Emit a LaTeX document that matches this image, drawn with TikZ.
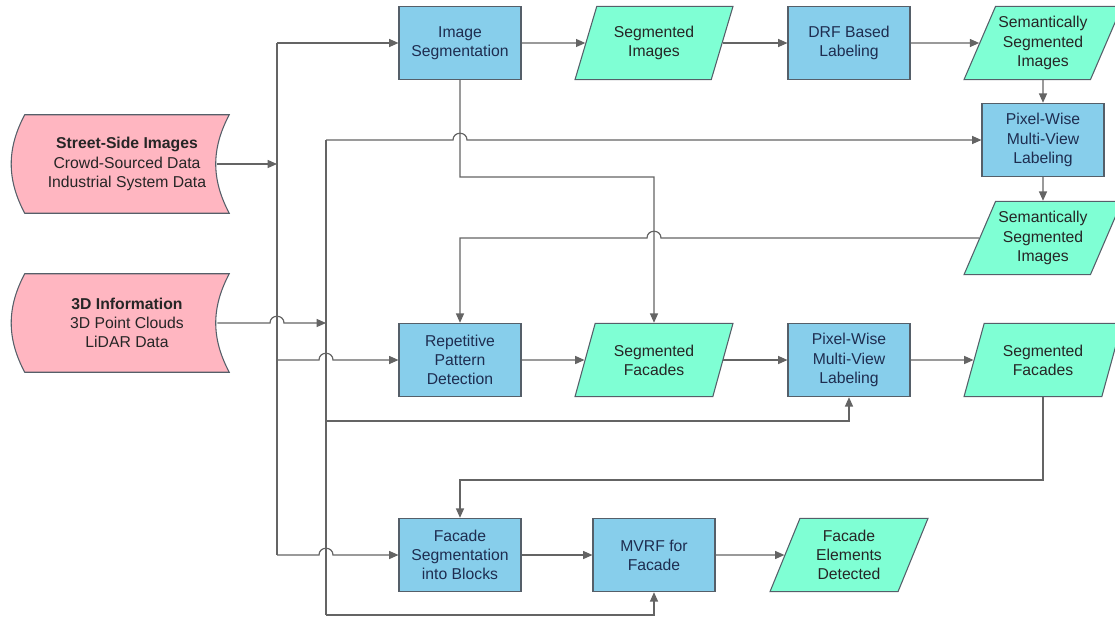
\documentclass[tikz,border=0pt]{standalone}
\usepackage{fontspec}
\setmainfont{Liberation Sans}
\usepackage{tikz}
\usetikzlibrary{shapes.geometric, arrows.meta, calc, backgrounds}

\definecolor{procblue}{RGB}{135,206,235}
\definecolor{datagreen}{RGB}{127,255,212}
\definecolor{srcpink}{RGB}{255,182,193}
\definecolor{edgegray}{RGB}{85,95,105}
\definecolor{linegray}{RGB}{100,100,100}
\definecolor{textnavy}{RGB}{30,45,80}

% line jumps over a crossing trunk
\newcommand{\hopR}[1]{-- ($(#1)+(-7,0)$) .. controls +(0,-9) and +(0,-9) .. ($(#1)+(7,0)$)}
\newcommand{\hopL}[1]{-- ($(#1)+(7,0)$) .. controls +(0,-9) and +(0,-9) .. ($(#1)+(-7,0)$)}

\begin{document}
\begin{tikzpicture}[x=0.75pt, y=-0.75pt,
    every node/.style={font=\fontsize{11.8}{14.4}\selectfont, align=center},
    process/.style={draw=edgegray, line width=0.8pt, fill=procblue, text=textnavy, minimum width=91.5pt, minimum height=55pt},
    data/.style={trapezium, trapezium left angle=63, trapezium right angle=117, trapezium stretches body, draw=edgegray, line width=0.8pt, fill=datagreen, text=black!85, minimum width=118.5pt, minimum height=55pt, inner xsep=0pt},
    source/.style={minimum width=153pt, minimum height=73.5pt, text=black!85},
    srcedge/.style={draw=edgegray, line width=0.8pt, fill=srcpink},
    line/.style={draw=linegray, line width=0.9pt},
    arr/.style={line, -{Triangle[length=7pt, width=6pt]}}]
    \useasboundingbox (0,0) rectangle (1115,618);

    % Inputs
    \node[source] (street) at (127,164) {\textbf{Street-Side Images}\\Crowd-Sourced Data\\Industrial System Data};
    \node[source] (info) at (127,323) {\textbf{3D Information}\\3D Point Clouds\\LiDAR Data};
    \begin{scope}[on background layer]
        \foreach \n in {street, info}
            \draw[srcedge] (\n.north west) to[bend right=28] (\n.south west) -- (\n.south east) to[bend left=28] (\n.north east) -- cycle;
    \end{scope}

    % Nodes
    \node[process] (imgseg) at (460,43) {Image\\Segmentation};
    \node[data] (segimg) at (654,43) {Segmented\\Images};
    \node[process] (drf) at (849,43) {DRF Based\\Labeling};
    \node[data] (sem1) at (1043,43) {Semantically\\Segmented\\Images};
    \node[process] (pwr) at (1043,140) {Pixel-Wise\\Multi-View\\Labeling};
    \node[data] (sem2) at (1043,238) {Semantically\\Segmented\\Images};
    \node[process] (rep) at (460,360) {Repetitive\\Pattern\\Detection};
    \node[data] (segfac) at (654,360) {Segmented\\Facades};
    \node[process] (pwm) at (849,360) {Pixel-Wise\\Multi-View\\Labeling};
    \node[data] (segfacr) at (1043,360) {Segmented\\Facades};
    \node[process] (fseg) at (460,555) {Facade\\Segmentation\\into Blocks};
    \node[process] (mvrf) at (654,555) {MVRF for\\Facade};
    \node[data] (felem) at (849,555) {Facade\\Elements\\Detected};

    % Trunks
    \coordinate (atop) at (277,43);
    \coordinate (abot) at (277,555);
    \coordinate (btop) at (326,140);
    \coordinate (bmid) at (326,421);
    \coordinate (bbot) at (326,615);
    \coordinate (k1) at (654,177);
    \coordinate (k2) at (460,480);
    \draw[line] (atop) -- (abot);
    \draw[line] (btop) -- (bbot);

    % Arrows
    \draw[arr] ([xshift=-9pt]street.east) -- (street -| atop);
    \draw[arr] ([xshift=-9pt]info.east) \hopR{info.east -| atop} -- (info.east -| btop);
    \draw[arr] (atop) -- (imgseg);
    \draw[arr] (atop |- rep) \hopR{btop |- rep} -- (rep);
    \draw[arr] (abot) \hopR{btop |- abot} -- (fseg);
    \draw[arr] (btop) \hopR{imgseg |- btop} -- (pwr);
    \draw[arr] (bmid) -| (pwm);
    \draw[arr] (bbot) -| (mvrf);

    \draw[arr] (imgseg) -- (segimg);
    \draw[arr] (segimg) -- (drf);
    \draw[arr] (drf) -- (sem1);
    \draw[arr] (sem1) -- (pwr);
    \draw[arr] (pwr) -- (sem2);
    \draw[arr] (imgseg) |- (k1) -- (segfac);
    \draw[arr] (sem2) \hopL{segfac |- sem2} -- (rep |- sem2) -- (rep);
    \draw[arr] (rep) -- (segfac);
    \draw[arr] (segfac) -- (pwm);
    \draw[arr] (pwm) -- (segfacr);
    \draw[arr] (segfacr) |- (k2) -- (fseg);
    \draw[arr] (fseg) -- (mvrf);
    \draw[arr] (mvrf) -- (felem);
\end{tikzpicture}
\end{document}
